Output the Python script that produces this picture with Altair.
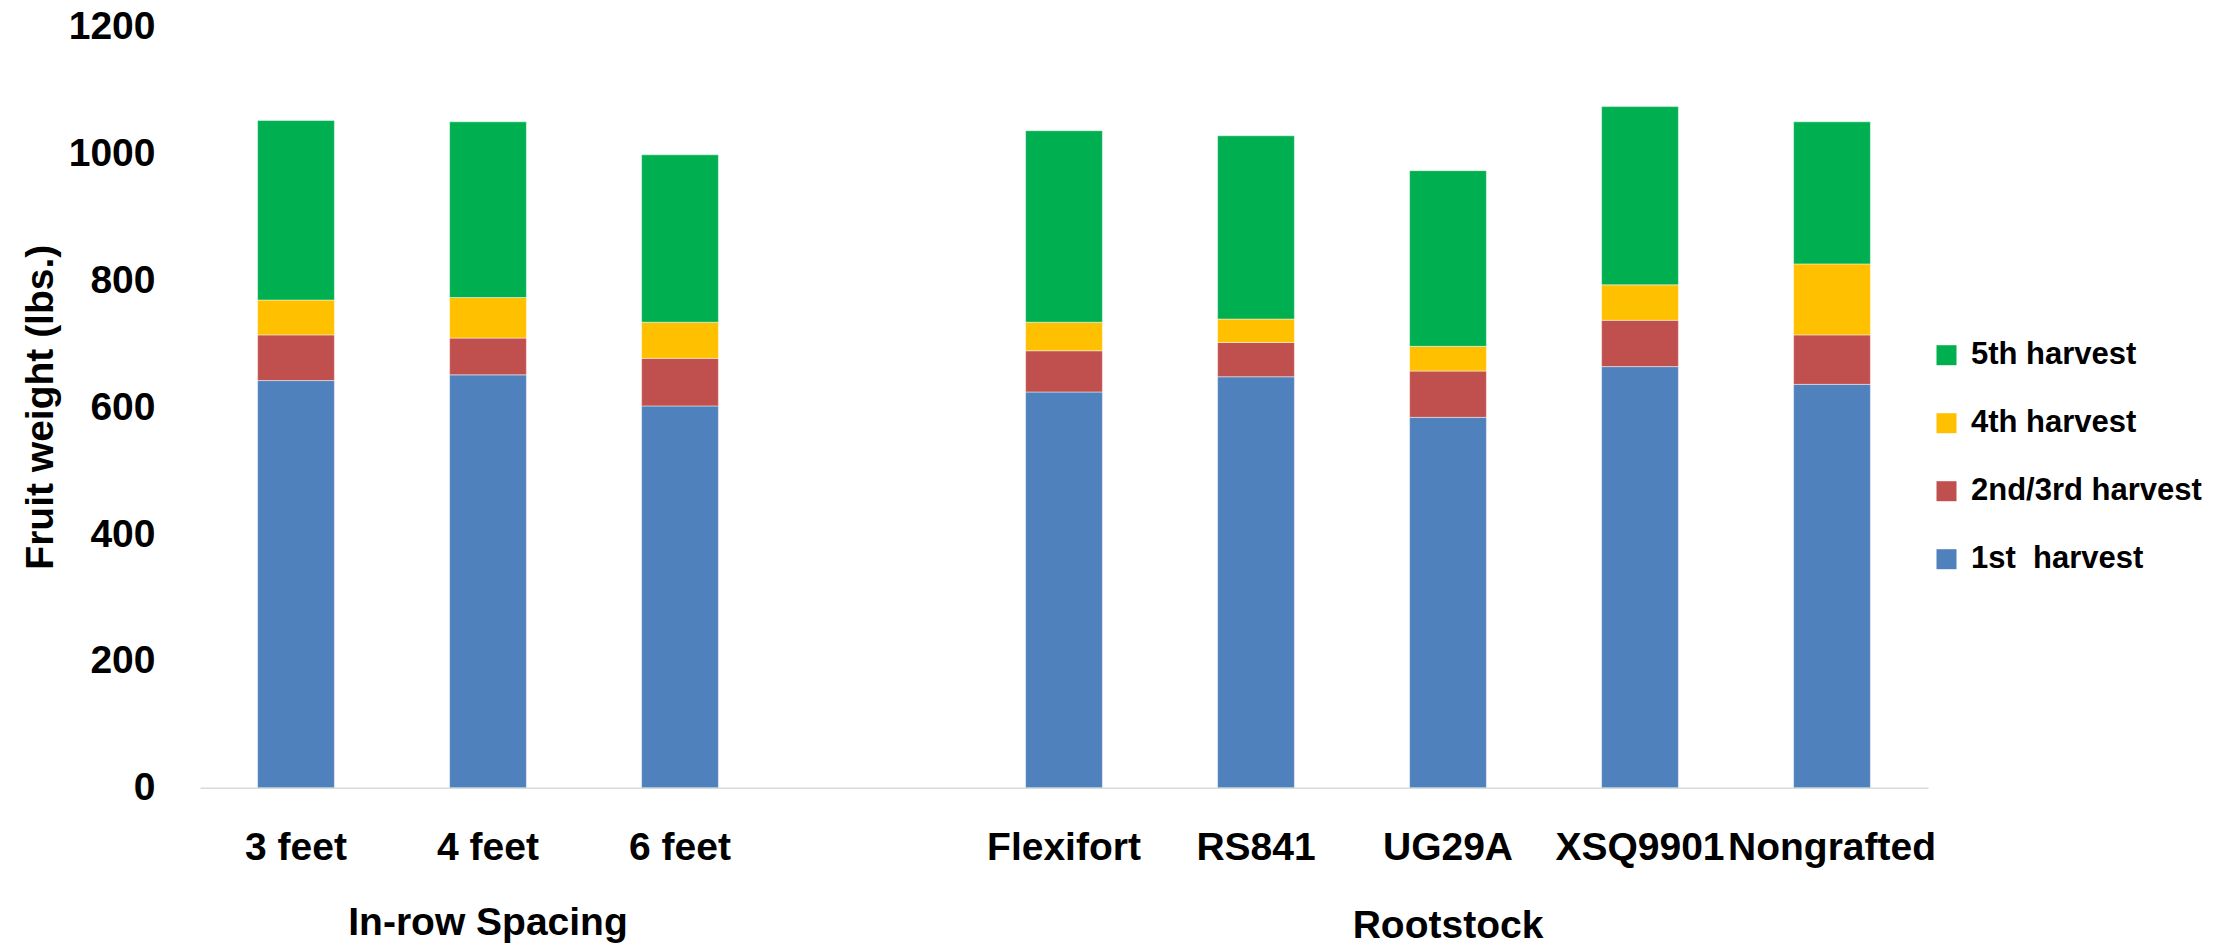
import altair as alt
import pandas as pd

categories = ["3 feet", "4 feet", "6 feet", "Flexifort", "RS841", "UG29A", "XSQ9901", "Nongrafted"]
gap_slot = "gap"
x_domain = ["3 feet", "4 feet", "6 feet", gap_slot, "Flexifort", "RS841", "UG29A", "XSQ9901", "Nongrafted"]

harvests = ["1st \u00a0harvest", "2nd/3rd harvest", "4th harvest", "5th harvest"]
first_harvest = [642, 651, 602, 624, 648, 584, 664, 636]
second_third_harvest = [72, 58, 75, 65, 54, 73, 73, 78]
fourth_harvest = [55, 64, 57, 45, 37, 39, 56, 112]
fifth_harvest = [283, 277, 264, 302, 289, 277, 281, 224]

legend_order = ["5th harvest", "4th harvest", "2nd/3rd harvest", "1st \u00a0harvest"]
legend_colors = ["#00B050", "#FFC000", "#C0504D", "#4F81BD"]

y_ticks = [0, 200, 400, 600, 800, 1000, 1200]

spacing_title = ["In-row Spacing"]
spacing_anchor = ["4 feet"]
rootstock_title = ["Rootstock"]
rootstock_anchor = ["UG29A"]

rows = []
series = [first_harvest, second_third_harvest, fourth_harvest, fifth_harvest]
for rank, (h, vals) in enumerate(zip(harvests, series)):
    for c, v in zip(categories, vals):
        rows.append({"category": c, "harvest": h, "value": v, "rank": rank})
df = pd.DataFrame(rows)

FONT = "Liberation Sans, Arial, sans-serif"
FS = 39

x_enc = alt.X(
    "category:N",
    scale=alt.Scale(domain=x_domain, paddingInner=0.6, paddingOuter=0.3),
    axis=alt.Axis(
        title=None,
        labelAngle=0,
        ticks=False,
        grid=False,
        domainColor="#D9D9D9",
        domainWidth=1.5,
        labelFont=FONT,
        labelFontSize=FS,
        labelFontWeight="bold",
        labelColor="#000000",
        labelPadding=72,
        labelBaseline="alphabetic",
        labelOverlap=False,
        labelBound=False,
        labelFlush=False,
        labelLimit=0,
        labelExpr="datum.label == 'gap' ? '' : datum.label",
    ),
)

bars = alt.Chart(df).mark_bar(
    stroke="#ffffff", strokeOpacity=0.45, strokeWidth=1
).encode(
    x=x_enc,
    y=alt.Y(
        "value:Q",
        stack="zero",
        scale=alt.Scale(domain=[0, 1200], nice=False),
        axis=alt.Axis(
            values=y_ticks,
            format="d",
            title="Fruit weight (lbs.)",
            grid=False,
            ticks=False,
            domain=False,
            labelFont=FONT,
            labelFontSize=FS,
            labelFontWeight="bold",
            labelColor="#000000",
            labelPadding=45,
            labelLimit=0,
            titleFont=FONT,
            titleFontSize=FS,
            titleFontWeight="bold",
            titleColor="#000000",
            titleX=-160,
            titleY=380,
            titleAngle=270,
            titleAlign="center",
            titleBaseline="middle",
            titleLimit=0,
        ),
    ),
    color=alt.Color(
        "harvest:N",
        scale=alt.Scale(domain=legend_order, range=legend_colors),
        legend=alt.Legend(
            title=None,
            orient="none",
            legendX=1731,
            legendY=313,
            symbolType="square",
            symbolSize=400,
            symbolStrokeWidth=0,
            labelFont=FONT,
            labelFontSize=31,
            labelFontWeight="bold",
            labelColor="#000000",
            labelOffset=9,
            rowPadding=36,
            padding=0,
            labelLimit=400,
        ),
    ),
    order=alt.Order("rank:Q", sort="ascending"),
)

t1 = alt.Chart(pd.DataFrame({"label": spacing_title, "category": spacing_anchor})).mark_text(
    font=FONT, fontSize=FS, fontWeight="bold", color="#000000", align="center", baseline="alphabetic"
).encode(x=alt.X("category:N", scale=alt.Scale(domain=x_domain)), y=alt.value(908), text="label:N")

t2 = alt.Chart(pd.DataFrame({"label": rootstock_title, "category": rootstock_anchor})).mark_text(
    font=FONT, fontSize=FS, fontWeight="bold", color="#000000", align="center", baseline="alphabetic"
).encode(x=alt.X("category:N", scale=alt.Scale(domain=x_domain)), y=alt.value(911), text="label:N")

chart = alt.layer(bars, t1, t2).properties(
    width=1728,
    height=761,
    autosize=alt.AutoSizeParams(type="none"),
    padding={"left": 200, "top": 26.7, "right": 288, "bottom": 159.3},
    background="#ffffff",
).configure_view(stroke=None)

chart.save("out.html", embed_options={"renderer": "svg", "actions": False})
